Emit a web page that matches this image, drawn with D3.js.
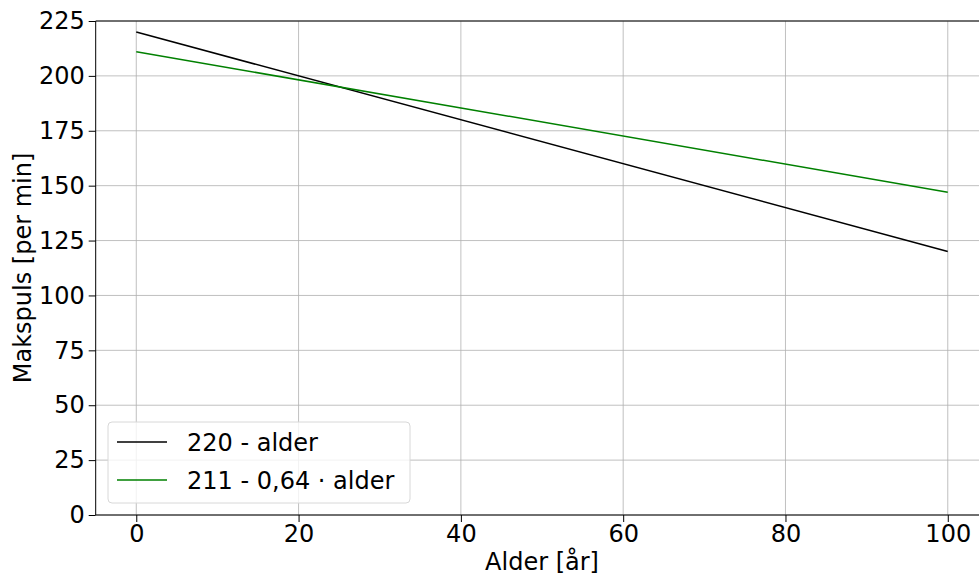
<!DOCTYPE html>
<html><head><meta charset="utf-8">
<script src="https://cdn.jsdelivr.net/npm/d3@7"></script>
<style>body{margin:0;background:#fff;}svg{display:block;font-family:"DejaVu Sans",sans-serif;}</style>
</head><body><svg id="c" width="979" height="575"></svg>
<script>
const ages = [0, 100];
const series1 = [220, 120];
const series2 = [211, 147];
const seriesNames = ["220 - alder", "211 - 0,64 · alder"];
const seriesColors = ["#000000", "#008000"];
const xTicks = [0, 20, 40, 60, 80, 100];
const yTicks = [0, 25, 50, 75, 100, 125, 150, 175, 200, 225];

const FS = 24;
const svg = d3.select("#c");
const L = 95.7, T = 21, B = 515;
const x = d3.scaleLinear().domain([-5, 105]).range([L, L + 8.115 * 110]);
const y = d3.scaleLinear().domain([0, 225]).range([B, T]);
const R = x(105);

svg.append("clipPath").attr("id", "pc").append("rect")
  .attr("x", L).attr("y", T).attr("width", R - L).attr("height", B - T);

// grid
const g = svg.append("g");
g.selectAll(".gx").data(xTicks).enter().append("line")
  .attr("x1", d => x(d)).attr("x2", d => x(d)).attr("y1", T).attr("y2", B)
  .attr("stroke", "#b0b0b0").attr("stroke-width", 0.8);
g.selectAll(".gy").data(yTicks).enter().append("line")
  .attr("x1", L).attr("x2", R).attr("y1", d => y(d)).attr("y2", d => y(d))
  .attr("stroke", "#b0b0b0").attr("stroke-width", 0.8);

// lines
const line = d3.line().x(d => x(d[0])).y(d => y(d[1]));
[series1, series2].forEach((s, i) => {
  svg.append("path").datum(ages.map((a, j) => [a, s[j]]))
    .attr("d", line).attr("fill", "none").attr("stroke", seriesColors[i])
    .attr("stroke-width", 1.5).attr("clip-path", "url(#pc)");
});

// axes
const xAxis = d3.axisBottom(x).tickValues(xTicks).tickSize(7).tickPadding(3).tickFormat(d3.format("d"));
const yAxis = d3.axisLeft(y).tickValues(yTicks).tickSize(7).tickPadding(4).tickFormat(d3.format("d"));
const gx = svg.append("g").attr("transform", `translate(0,${B})`).call(xAxis);
const gy = svg.append("g").attr("transform", `translate(${L},0)`).call(yAxis);
[gx, gy].forEach(a => {
  a.attr("font-size", FS).attr("font-family", "DejaVu Sans");
  a.select(".domain").remove();
  a.selectAll("text").attr("font-size", FS).attr("fill", "#000");
  a.selectAll("line").attr("stroke", "#000").attr("stroke-width", 1);
});
// spines
[[L, L, T, B], [L, R, B, B], [L, R, T, T], [R, R, T, B]].forEach(s => {
  svg.append("line").attr("x1", s[0]).attr("x2", s[1]).attr("y1", s[2]).attr("y2", s[3])
    .attr("stroke", "#000").attr("stroke-width", 1);
});

// axis titles
svg.append("text").attr("x", x(50)).attr("y", 570).attr("text-anchor", "middle")
  .attr("font-size", FS).text("Alder [år]");
svg.append("text").attr("transform", `translate(31,${(T + B) / 2}) rotate(-90)`)
  .attr("text-anchor", "middle").attr("font-size", FS).text("Makspuls [per min]");

// legend
const lg = svg.append("g");
lg.append("rect").attr("x", 108).attr("y", 422).attr("width", 302).attr("height", 81)
  .attr("rx", 4).attr("fill", "#fff").attr("fill-opacity", 0.8).attr("stroke", "#d8d8d8").attr("stroke-width", 1);
seriesNames.forEach((n, i) => {
  const yy = 442 + i * 38;
  lg.append("line").attr("x1", 117).attr("x2", 167).attr("y1", yy).attr("y2", yy)
    .attr("stroke", seriesColors[i]).attr("stroke-width", 1.5);
  lg.append("text").attr("x", 187).attr("y", yy + 9).attr("font-size", FS).text(n);
});
</script></body></html>
